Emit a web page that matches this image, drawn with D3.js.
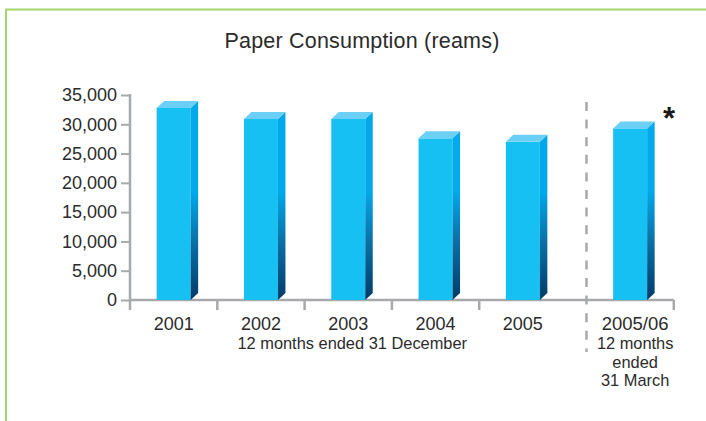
<!DOCTYPE html>
<html>
<head>
<meta charset="utf-8">
<script src="https://cdn.jsdelivr.net/npm/d3@7/dist/d3.min.js"></script>
<style>
  html, body { margin: 0; padding: 0; background: #fff; }
  svg { display: block; font-family: "Liberation Sans", Arial, Helvetica, sans-serif; }
</style>
</head>
<body>
<svg id="chart" width="706" height="421"></svg>
<script>
// Calendar years (12 months ended 31 December)
const calendarYears = ["2001", "2002", "2003", "2004", "2005"];
const calendarReams = [32800, 30900, 30900, 27600, 27000];
// Financial year (12 months ended 31 March)
const fiscalYears = ["2005/06"];
const fiscalReams = [29300];
const fiscalNote = ["12 months", "ended", "31 March"];
const calendarNote = "12 months ended 31 December";
const yTicks = [0, 5000, 10000, 15000, 20000, 25000, 30000, 35000];
const title = "Paper Consumption (reams)";

const svg = d3.select("#chart");
const axisColor = "#a7a9ac";
const textColor = "#2b2b2b";

// page frame
svg.append("path")
  .attr("d", "M6,421 V9.5 H706")
  .attr("fill", "none")
  .attr("stroke", "#a3d56c")
  .attr("stroke-width", 2);

svg.append("text")
  .attr("x", 362).attr("y", 48)
  .attr("text-anchor", "middle")
  .attr("font-size", 21.5)
  .attr("letter-spacing", 0.2)
  .attr("fill", textColor)
  .text(title);

const plotLeft = 130, plotBottom = 300, plotTop = 95;
const bandW = 87.3;
const gap = 20;

const y = d3.scaleLinear().domain([0, 35000]).range([plotBottom, plotTop]);
const xCal = d3.scaleBand().domain(calendarYears)
  .range([plotLeft, plotLeft + bandW * calendarYears.length]);
const fiscalStart = plotLeft + bandW * calendarYears.length + gap;
const xFis = d3.scaleBand().domain(fiscalYears)
  .range([fiscalStart, fiscalStart + bandW * fiscalYears.length]);
const plotRight = fiscalStart + bandW * fiscalYears.length;

// side-face gradient, bright at the top, deep navy at the base
const defs = svg.append("defs");
const grad = defs.append("linearGradient")
  .attr("id", "sideGrad")
  .attr("gradientUnits", "userSpaceOnUse")
  .attr("x1", 0).attr("x2", 0)
  .attr("y1", y(35000)).attr("y2", y(0));
grad.append("stop").attr("offset", 0).attr("stop-color", "#00a9ea");
grad.append("stop").attr("offset", 0.47).attr("stop-color", "#00a9ea");
grad.append("stop").attr("offset", 0.72).attr("stop-color", "#0a6fa5");
grad.append("stop").attr("offset", 1).attr("stop-color", "#003b69");

// y axis
const yAxis = d3.axisLeft(y).tickValues(yTicks).tickFormat(d3.format(","))
  .tickSize(9).tickPadding(4);
const gy = svg.append("g").attr("transform", `translate(${plotLeft},0)`).call(yAxis);
gy.select(".domain").remove();
gy.selectAll(".tick line").attr("stroke", axisColor).attr("stroke-width", 2);
gy.selectAll(".tick text").attr("font-size", 18).attr("fill", textColor)
  .attr("font-family", "Liberation Sans, Arial, sans-serif");
svg.append("line")
  .attr("x1", plotLeft).attr("x2", plotLeft)
  .attr("y1", plotTop - 1).attr("y2", plotBottom + 10)
  .attr("stroke", axisColor).attr("stroke-width", 2.5);

// x axis baseline and category separators
svg.append("line")
  .attr("x1", plotLeft).attr("x2", plotRight)
  .attr("y1", plotBottom).attr("y2", plotBottom)
  .attr("stroke", axisColor).attr("stroke-width", 2.5);
const sepX = calendarYears.slice(1).map(d => xCal(d)).concat([plotRight]);
svg.selectAll("line.sep").data(sepX).enter().append("line")
  .attr("class", "sep")
  .attr("x1", d => d).attr("x2", d => d)
  .attr("y1", plotBottom).attr("y2", plotBottom + 10)
  .attr("stroke", axisColor).attr("stroke-width", 2.5);

// dashed divider between calendar and financial years
svg.append("line")
  .attr("x1", fiscalStart).attr("x2", fiscalStart)
  .attr("y1", 102).attr("y2", 352)
  .attr("stroke", axisColor).attr("stroke-width", 2.5)
  .attr("stroke-dasharray", "9,8.6");

// 3D bars
const barW = 34, dx = 7.5, dy = 7;
function drawBars(cats, vals, x) {
  const data = cats.map((c, i) => ({ c, v: vals[i] }));
  const g = svg.append("g");
  const bars = g.selectAll("g.bar").data(data).enter().append("g").attr("class", "bar");
  const x0 = d => x(d.c) + x.bandwidth() / 2 - barW / 2;
  bars.append("rect")
    .attr("x", x0).attr("y", d => y(d.v))
    .attr("width", barW).attr("height", d => y(0) - y(d.v))
    .attr("fill", "#17c0f2");
  bars.append("path")
    .attr("d", d => {
      const a = x0(d) + barW, t = y(d.v), b = y(0);
      return `M${a},${t} L${a + dx},${t - dy} L${a + dx},${b - dy} L${a},${b} Z`;
    })
    .attr("fill", "url(#sideGrad)");
  bars.append("path")
    .attr("d", d => {
      const a = x0(d), t = y(d.v);
      return `M${a},${t} L${a + dx},${t - dy} L${a + barW + dx},${t - dy} L${a + barW},${t} Z`;
    })
    .attr("fill", "#6ccff6");
}
drawBars(calendarYears, calendarReams, xCal);
drawBars(fiscalYears, fiscalReams, xFis);

// category labels
svg.selectAll("text.cal").data(calendarYears).enter().append("text")
  .attr("class", "cal")
  .attr("x", d => xCal(d) + xCal.bandwidth() / 2)
  .attr("y", 330)
  .attr("text-anchor", "middle")
  .attr("font-size", 18).attr("fill", textColor)
  .text(d => d);
svg.append("text")
  .attr("x", xCal("2003") + xCal.bandwidth() / 2 + 4)
  .attr("y", 349)
  .attr("text-anchor", "middle")
  .attr("font-size", 16.4).attr("fill", textColor)
  .text(calendarNote);

svg.selectAll("text.fis").data(fiscalYears).enter().append("text")
  .attr("class", "fis")
  .attr("x", d => xFis(d) + xFis.bandwidth() / 2 + 5)
  .attr("y", 330)
  .attr("text-anchor", "middle")
  .attr("font-size", 18.5).attr("fill", textColor)
  .text(d => d);
svg.selectAll("text.fisnote").data(fiscalNote).enter().append("text")
  .attr("class", "fisnote")
  .attr("x", xFis(fiscalYears[0]) + xFis.bandwidth() / 2 + 5)
  .attr("y", (d, i) => 349 + i * 18.5)
  .attr("text-anchor", "middle")
  .attr("font-size", 16.4).attr("fill", textColor)
  .text(d => d);

// footnote marker on the financial-year bar
svg.append("text")
  .attr("x", xFis(fiscalYears[0]) + xFis.bandwidth() / 2 + barW / 2 + 22)
  .attr("y", y(fiscalReams[0]) + 1)
  .attr("text-anchor", "middle")
  .attr("font-size", 31).attr("font-weight", "bold").attr("fill", "#1a1a1a")
  .text("*");
</script>
</body>
</html>
